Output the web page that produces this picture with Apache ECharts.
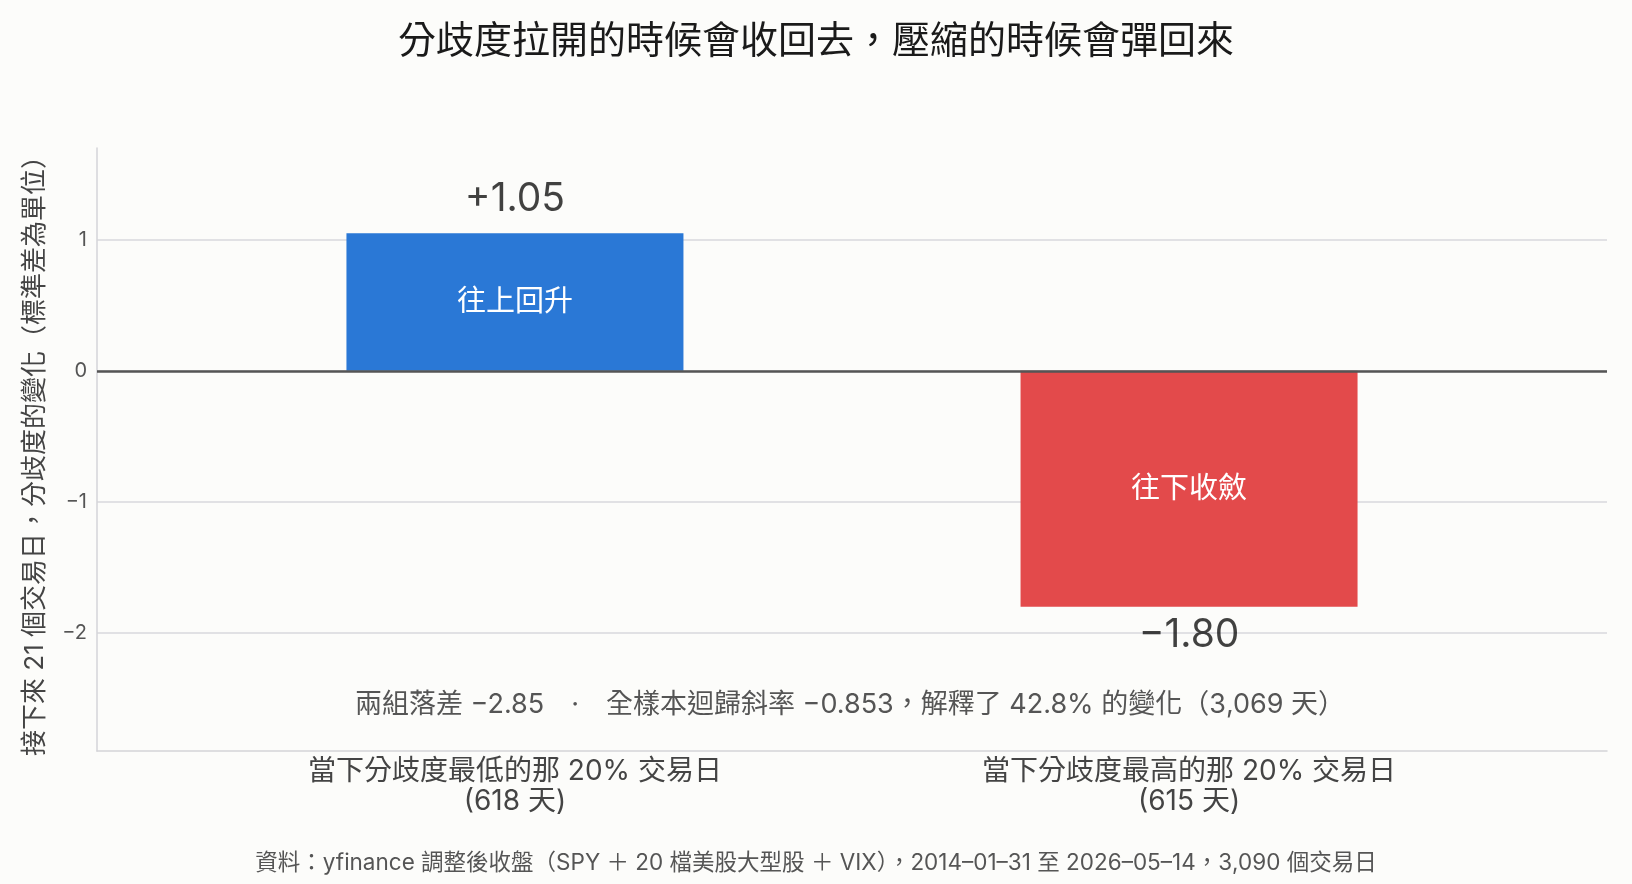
<!DOCTYPE html>
<html>
<head>
<meta charset="utf-8">
<script src="https://cdn.jsdelivr.net/npm/echarts@6/dist/echarts.min.js"></script>
<style>
html,body{margin:0;padding:0;background:#fcfcfa;}
#chart{width:1632px;height:884px;}
</style>
</head>
<body>
<div id="chart"></div>
<script>
const categories = ['當下分歧度最低的那 20% 交易日', '當下分歧度最高的那 20% 交易日'];
const dayCounts = [618, 615];
const values = [1.05, -1.80];
const innerLabels = ['往上回升', '往下收斂'];
const barColors = ['#2a78d6', '#e34a4b'];
const yTicks = [-2, -1, 0, 1];
const titleText = '分歧度拉開的時候會收回去，壓縮的時候會彈回來';
const yName = '接下來 21 個交易日，分歧度的變化（標準差為單位）';
const noteText = '兩組落差 −2.85　·　全樣本迴歸斜率 −0.853，解釋了 42.8% 的變化（3,069 天）';
const sourceText = '資料：yfinance 調整後收盤（SPY ＋ 20 檔美股大型股 ＋ VIX），2014–01–31 至 2026–05–14，3,090 個交易日';

const FONT = 'Inter, "Noto Sans CJK TC", sans-serif';
const fmtMinus = v => (v < 0 ? '−' + Math.abs(v) : String(v));
const fmtVal = v => (v > 0 ? '+' : '−') + Math.abs(v).toFixed(2);

const chart = echarts.init(document.getElementById('chart'));
chart.setOption({
  backgroundColor: '#fcfcfa',
  animation: false,
  textStyle: { fontFamily: FONT },
  title: {
    text: titleText, left: 'center', top: 18,
    textStyle: { fontFamily: FONT, fontSize: 38, fontWeight: 'normal', color: '#1a1a1a' }
  },
  grid: { left: 97, right: 25, top: 148, bottom: 133 },
  xAxis: {
    type: 'value', min: -0.62, max: 1.62,
    axisLine: { show: true, onZero: false, lineStyle: { color: '#d4d4d8', width: 1.5 } },
    axisTick: { show: false },
    splitLine: { show: false },
    axisLabel: {
      customValues: [0, 1], margin: 6,
      fontFamily: FONT, fontSize: 28, color: '#444', lineHeight: 30,
      formatter: v => { const i = Math.round(v); return categories[i] + '\n(' + dayCounts[i] + ' 天)'; }
    }
  },
  yAxis: {
    type: 'value', min: -2.9, max: 1.7,
    name: yName, nameLocation: 'middle', nameGap: 49,
    nameTextStyle: { fontFamily: FONT, fontSize: 26, color: '#444' },
    axisLine: { show: true, onZero: false, lineStyle: { color: '#d4d4d8', width: 1.5 } },
    axisTick: { show: false, customValues: yTicks },
    splitLine: { show: true, lineStyle: { color: '#d9d9dc', width: 1.5 } },
    axisLabel: {
      customValues: yTicks, margin: 10,
      fontFamily: FONT, fontSize: 20, color: '#555',
      formatter: v => fmtMinus(v)
    }
  },
  series: [
    {
      type: 'bar',
      barWidth: 337,
      data: values.map((v, i) => ({
        value: [i, v],
        itemStyle: { color: barColors[i] },
        label: { show: true, position: 'inside', formatter: innerLabels[i] }
      })),
      label: { color: '#fff', fontFamily: FONT, fontSize: 29 },
      markLine: {
        silent: true, symbol: 'none',
        label: { show: false },
        lineStyle: { color: '#555', width: 2.5, type: 'solid' },
        data: [{ yAxis: 0 }]
      },
      z: 2
    },
    {
      type: 'scatter',
      symbolSize: 1,
      itemStyle: { color: 'rgba(0,0,0,0)' },
      data: values.map((v, i) => ({
        value: [i, v],
        label: {
          show: true,
          position: v >= 0 ? 'top' : 'bottom',
          distance: v >= 0 ? 14 : 8,
          formatter: fmtVal(v)
        }
      })),
      label: { color: '#111', fontFamily: FONT, fontSize: 39 },
      z: 3
    }
  ],
  graphic: [
    {
      type: 'text', x: 850, y: 705,
      style: { text: noteText, font: '27px ' + FONT, fill: '#555', align: 'center', verticalAlign: 'middle' }
    },
    {
      type: 'text', x: 816, y: 863,
      style: { text: sourceText, font: '22.5px ' + FONT, fill: '#555', align: 'center', verticalAlign: 'middle' }
    }
  ]
});
</script>
</body>
</html>
